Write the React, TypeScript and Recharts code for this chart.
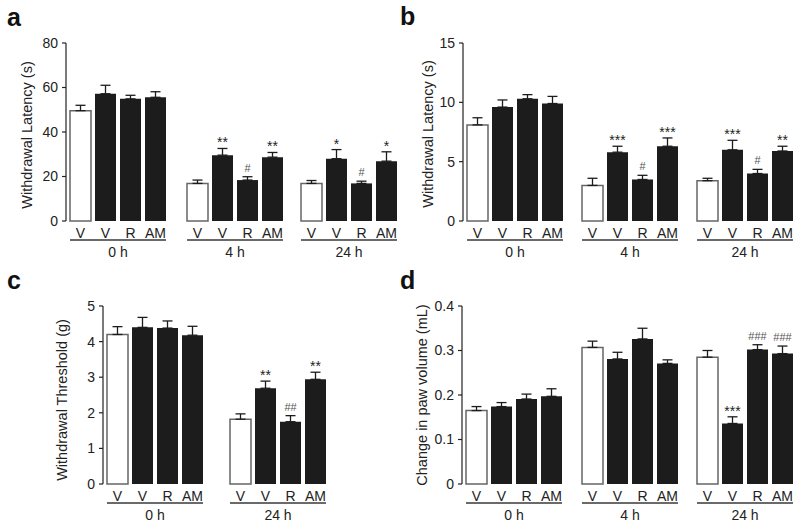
import React from 'react';
import {
  ComposedChart, Bar, Line, XAxis, YAxis, ErrorBar, Cell, LabelList,
} from 'recharts';

const treatments = ['V', 'V', 'R', 'AM'];

// panel a - withdrawal latency (s)
const aTimes = ['0 h', '4 h', '24 h'];
const aMeans = [[49.6, 57.2, 54.9, 55.6], [16.9, 29.6, 18.4, 28.7], [16.9, 28.0, 16.9, 26.9]];
const aSem = [[2.4, 3.8, 1.6, 2.5], [1.5, 3.0, 1.5, 2.1], [1.3, 4.1, 1.0, 4.2]];
const aStars = [['', '', '', ''], ['', '**', '', '**'], ['', '*', '', '*']];
const aHash = [['', '', '', ''], ['', '', '#', ''], ['', '', '#', '']];

// panel b - withdrawal latency (s)
const bTimes = ['0 h', '4 h', '24 h'];
const bMeans = [[8.1, 9.6, 10.3, 9.9], [3.0, 5.8, 3.5, 6.3], [3.4, 6.0, 4.0, 5.9]];
const bSem = [[0.6, 0.6, 0.35, 0.6], [0.6, 0.5, 0.35, 0.7], [0.2, 0.8, 0.35, 0.4]];
const bStars = [['', '', '', ''], ['', '***', '', '***'], ['', '***', '', '**']];
const bHash = [['', '', '', ''], ['', '', '#', ''], ['', '', '#', '']];

// panel c - withdrawal threshold (g)
const cTimes = ['0 h', '24 h'];
const cMeans = [[4.2, 4.4, 4.38, 4.18], [1.82, 2.69, 1.75, 2.94]];
const cSem = [[0.22, 0.28, 0.2, 0.25], [0.15, 0.2, 0.17, 0.2]];
const cStars = [['', '', '', ''], ['', '**', '', '**']];
const cHash = [['', '', '', ''], ['', '', '##', '']];

// panel d - change in paw volume (mL)
const dTimes = ['0 h', '4 h', '24 h'];
const dMeans = [[0.165, 0.174, 0.191, 0.197], [0.307, 0.281, 0.326, 0.271], [0.285, 0.136, 0.302, 0.293]];
const dSem = [[0.009, 0.009, 0.011, 0.017], [0.014, 0.015, 0.024, 0.008], [0.015, 0.015, 0.011, 0.017]];
const dStars = [['', '', '', ''], ['', '', '', ''], ['', '***', '', '']];
const dHash = [['', '', '', ''], ['', '', '', ''], ['', '', '###', '###']];

const FONT = '"Liberation Sans", Arial, sans-serif';
const PLOT_H = 178;
const TOP_MARGIN = 10;
const TICK_H = 19;
const GROUP_H = 17;

const buildRows = (means: number[], sem: number[], stars: string[], hash: string[]) =>
  treatments.map((t, i) => ({
    name: t,
    mean: means[i],
    err: [0, sem[i]],
    top: means[i] + sem[i],
    star: stars[i],
    hash: hash[i],
  }));

type GroupProps = {
  rows: any[];
  time: string;
  left: number;
  top: number;
  domain: [number, number];
  ticks: number[];
  yAxisWidth?: number;
  yLabel?: string;
  yLabelX?: number;
  yLabelDy?: number;
  fmt?: (v: number) => string;
};

const Group: React.FC<GroupProps> = (props) => {
  const { rows, time, left, top, domain, ticks, yAxisWidth = 0, yLabel, yLabelX = 0, yLabelDy = 0, fmt } = props;
  const width = yAxisWidth + 2 + 100;
  const height = TOP_MARGIN + PLOT_H + TICK_H + GROUP_H + 6;
  const lineY = TOP_MARGIN + PLOT_H + TICK_H;
  const titleY = TOP_MARGIN + PLOT_H / 2 + yLabelDy;
  return (
    <div style={{ position: 'absolute', left, top, width, height }}>
      <div style={{ position: 'absolute', left: 0, top: 0 }}>
        <ComposedChart
          width={width}
          height={height}
          data={rows}
          margin={{ top: TOP_MARGIN, right: 0, bottom: 6, left: 0 }}
        >
          <XAxis
            dataKey="name"
            axisLine={false}
            tickLine={false}
            tickSize={4}
            tickMargin={3}
            height={TICK_H + GROUP_H}
            padding={{ left: 2, right: 0 }}
            interval={0}
            tick={{ fontSize: 14, fill: '#222' }}
          />
          {yLabel ? (
            <YAxis
              width={yAxisWidth}
              domain={domain}
              ticks={ticks}
              interval={0}
              tickSize={4}
              tickMargin={4}
              tickFormatter={fmt}
              axisLine={{ stroke: '#222', strokeWidth: 1.2 }}
              tickLine={{ stroke: '#222', strokeWidth: 1.2 }}
              tick={{ fontSize: 14, fill: '#222' }}
            />
          ) : (
            <YAxis hide domain={domain} ticks={ticks} />
          )}
          <Bar dataKey="mean" barSize={21} isAnimationActive={false}>
            {rows.map((r, i) => (
              <Cell
                key={i}
                fill={i === 0 ? '#ffffff' : '#1c1c1c'}
                stroke={i === 0 ? '#666' : '#1c1c1c'}
                strokeWidth={i === 0 ? 1.5 : 0}
              />
            ))}
            <ErrorBar dataKey="err" width={5} stroke="#1c1c1c" strokeWidth={1.3} direction="y" />
          </Bar>
          <Line dataKey="top" stroke="none" dot={false} activeDot={false} isAnimationActive={false}>
            <LabelList dataKey="star" position="top" offset={1} style={{ fontSize: 14, fill: '#222' }} />
            <LabelList dataKey="hash" position="top" offset={5} style={{ fontSize: 11, fill: '#555' }} />
          </Line>
        </ComposedChart>
      </div>

      {/* group underline + time label */}
      <div style={{ position: 'absolute', zIndex: 2, left: yAxisWidth + 4, top: lineY - 1, width: 96, height: 2, background: '#6a6a6a' }} />
      <div style={{ position: 'absolute', zIndex: 2, left: yAxisWidth + 2, top: lineY + GROUP_H - 12, width: 100, textAlign: 'center', fontSize: 14, lineHeight: '14px', color: '#222' }}>
        {time}
      </div>

      {yLabel && (
        <div
          style={{
            position: 'absolute', zIndex: 2, left: yLabelX - 150, top: titleY - 8, width: 300, height: 16,
            lineHeight: '16px', textAlign: 'center', fontSize: 14.5, color: '#222', transform: 'rotate(-90deg)',
          }}
        >
          {yLabel}
        </div>
      )}
    </div>
  );
};

const Letter: React.FC<{ ch: string; left: number; top: number }> = ({ ch, left, top }) => (
  <div style={{ position: 'absolute', left, top, fontSize: 25, fontWeight: 'bold', lineHeight: '25px', color: '#111' }}>{ch}</div>
);

const App: React.FC = () => {
  const topRow = 43 - TOP_MARGIN;
  const botRow = 306 - TOP_MARGIN;
  return (
    <div style={{ position: 'absolute', left: 0, top: 0, width: 800, height: 528, background: '#fff', fontFamily: FONT, overflow: 'hidden' }}>
      <Letter ch="a" left={7} top={5} />
      <Letter ch="b" left={400} top={4} />
      <Letter ch="c" left={7} top={268} />
      <Letter ch="d" left={400} top={268} />

      {/* a */}
      {aTimes.map((t, g) => (
        <Group
          key={'a' + g}
          rows={buildRows(aMeans[g], aSem[g], aStars[g], aHash[g])}
          time={t}
          left={[0, 183, 297][g]}
          top={topRow}
          domain={[0, 80]}
          ticks={[0, 20, 40, 60, 80]}
          yAxisWidth={g === 0 ? 66 : 0}
          yLabel={g === 0 ? 'Withdrawal Latency (s)' : undefined}
          yLabelX={27}
          yLabelDy={3}
        />
      ))}

      {/* b */}
      {bTimes.map((t, g) => (
        <Group
          key={'b' + g}
          rows={buildRows(bMeans[g], bSem[g], bStars[g], bHash[g])}
          time={t}
          left={[400, 578, 693][g]}
          top={topRow}
          domain={[0, 15]}
          ticks={[0, 5, 10, 15]}
          yAxisWidth={g === 0 ? 63 : 0}
          yLabel={g === 0 ? 'Withdrawal Latency (s)' : undefined}
          yLabelX={28}
          yLabelDy={2}
        />
      ))}

      {/* c */}
      {cTimes.map((t, g) => (
        <Group
          key={'c' + g}
          rows={buildRows(cMeans[g], cSem[g], cStars[g], cHash[g])}
          time={t}
          left={[0, 226][g]}
          top={botRow}
          domain={[0, 5]}
          ticks={[0, 1, 2, 3, 4, 5]}
          yAxisWidth={g === 0 ? 103 : 0}
          yLabel={g === 0 ? 'Withdrawal Threshold (g)' : undefined}
          yLabelX={62}
          yLabelDy={5}
        />
      ))}

      {/* d */}
      {dTimes.map((t, g) => (
        <Group
          key={'d' + g}
          rows={buildRows(dMeans[g], dSem[g], dStars[g], dHash[g])}
          time={t}
          left={[400, 578, 693][g]}
          top={botRow}
          domain={[0, 0.4]}
          ticks={[0, 0.1, 0.2, 0.3, 0.4]}
          yAxisWidth={g === 0 ? 62 : 0}
          yLabel={g === 0 ? 'Change in paw volume (mL)' : undefined}
          yLabelX={22}
          yLabelDy={0}
          fmt={(v: number) => (v === 0 ? '0' : v.toFixed(1))}
        />
      ))}
    </div>
  );
};

export default App;
